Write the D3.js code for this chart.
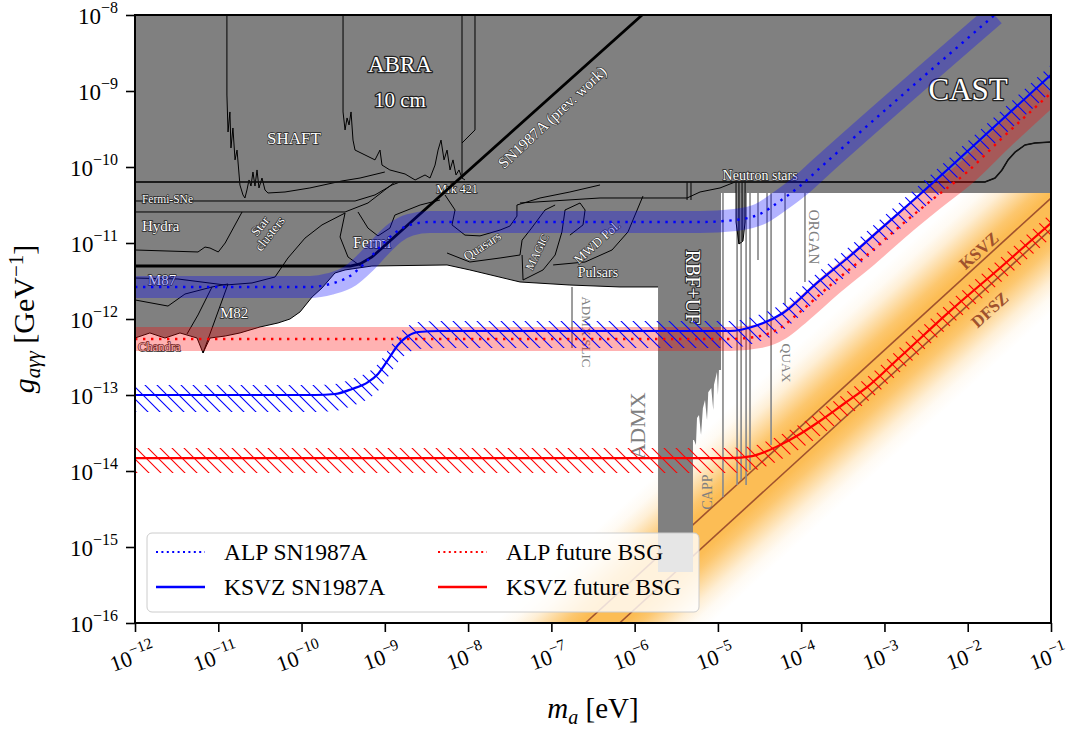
<!DOCTYPE html>
<html>
<head>
<meta charset="utf-8">
<script src="https://cdn.jsdelivr.net/npm/d3@7/dist/d3.min.js"></script>
<style>
html,body{margin:0;padding:0;background:#fff;}
svg text{font-family:"Liberation Serif","DejaVu Serif",serif;}
</style>
</head>
<body>
<svg id="chart" width="1081" height="732"></svg>
<script>
// ================= DATA (mass m_a in eV, coupling g in GeV^-1) =================
const massTicks = [1e-12,1e-11,1e-10,1e-9,1e-8,1e-7,1e-6,1e-5,1e-4,1e-3,1e-2,1e-1];
const massTickExp = ["−12","−11","−10","−9","−8","−7","−6","−5","−4","−3","−2","−1"];
const couplingTicks = [1e-16,1e-15,1e-14,1e-13,1e-12,1e-11,1e-10,1e-9,1e-8];
const couplingTickExp = ["−16","−15","−14","−13","−12","−11","−10","−9","−8"];

// projected bounds (this work)
const alpSN = [[1e-12,2.64e-12],[1.26e-10,2.64e-12],[2.2e-10,2.89e-12],[3.82e-10,3.68e-12],[5.78e-10,5.46e-12],[8.75e-10,8.85e-12],[1.32e-9,1.36e-11],[2.01e-9,1.73e-11],[3.49e-9,1.89e-11],[6.1e-6,1.89e-11],[1.61e-5,2.01e-11],[3.21e-5,2.41e-11],[5.57e-5,3.57e-11],[9.68e-5,5.62e-11],[1.68e-4,9.7e-11],[2.1e-2,1e-8]];
const ksvzSN = [[1e-12,1.0e-13],[1.45e-10,1.0e-13],[2.52e-10,1.03e-13],[4.04e-10,1.2e-13],[6.28e-10,1.48e-13],[8.28e-10,1.89e-13],[1.09e-9,2.89e-13],[1.44e-9,4.55e-13],[1.9e-9,5.97e-13],[2.51e-9,6.75e-13],[4.6e-9,6.95e-13],[1.4e-5,6.95e-13],[2.79e-5,8.09e-13],[6.05e-5,1.2e-12],[1.55e-4,2.98e-12],[3.86e-4,6.75e-12],[9.62e-4,1.63e-11],[2.46e-3,4.03e-11],[5.64e-3,9.14e-11],[1e-1,1.63e-9]];
const alpBSG = [[1e-12,5.46e-13],[1.4e-5,5.46e-13],[3.21e-5,5.97e-13],[5.57e-5,7.62e-13],[9.68e-5,1.24e-12],[2.41e-4,2.98e-12],[6.18e-4,6.95e-12],[1.54e-3,1.67e-11],[3.83e-3,3.79e-11],[9.82e-3,8.59e-11],[2.44e-2,2.26e-10],[1e-1,9.42e-10]];
const ksvzBSG = [[1e-12,1.48e-14],[1.4e-5,1.48e-14],[2.57e-5,1.57e-14],[3.89e-5,1.83e-14],[5.57e-5,2.2e-14],[8.43e-5,2.8e-14],[1.68e-4,4.55e-14],[3.36e-4,7.85e-14],[6.18e-4,1.27e-13],[1.54e-3,3.16e-13],[6.12e-3,1.27e-12],[2.44e-2,4.69e-12],[1e-1,1.83e-11]];

// QCD axion model lines
const ksvzModelM = [2.56e-7, 1e-1], ksvzModelG = [1e-16, 3.9e-11];
const dfszModelM = [6.6e-7, 1e-1],  dfszModelG = [1e-16, 1.52e-11];

// excluded region (grey)
const grayUpper = [[1e-12,1e-8],[1e-1,1e-8],[1e-1,4.55e-11],[2.12e-5,4.55e-11],[2.12e-5,1.89e-11],[2.0e-5,1.06e-11],[1.79e-5,9.7e-12],[1.65e-5,1.89e-11],[1.65e-5,4.55e-11],[1.09e-5,4.55e-11],[1.09e-5,2.13e-13],[1.03e-5,2.13e-13],[1.0e-5,1.0e-13],[9.75e-6,2.01e-13],[8.97e-6,1.36e-13],[8.79e-6,6.35e-14],[8.32e-6,1.24e-13],[7.66e-6,1.09e-13],[7.4e-6,4.69e-14],[7.0e-6,8.59e-14],[6.6e-6,6.7e-14],[6.27e-6,2.98e-14],[5.93e-6,5.46e-14],[5.61e-6,4.98e-14],[5.45e-6,2.2e-14],[5.16e-6,2.56e-14],[5.02e-6,2.56e-14],[5.02e-6,4.69e-16],[1.91e-6,4.69e-16]];
const astroLower = [[1.91e-6,2.64e-12],[6.67e-7,2.64e-12],[1.67e-7,2.8e-12],[4.2e-8,3.07e-12],[1.05e-8,4.42e-12],[5.59e-9,5.14e-12],[7.0e-10,4.98e-12],[3.33e-10,4.42e-12],[2.52e-10,4.03e-12],[1.76e-10,2.56e-12],[1.34e-10,1.95e-12],[9.6e-11,1.24e-12],[7.26e-11,1.0e-12],[5.21e-11,8.86e-13],[3.17e-11,7.85e-13],[1.82e-11,6.55e-13],[1.21e-11,5.97e-13],[7.96e-12,5.62e-13],[6.56e-12,3.57e-13],[5.56e-12,5.62e-13],[3.47e-12,6.55e-13],[2.29e-12,5.62e-13],[1.51e-12,6.55e-13],[1e-12,5.62e-13]];

// haloscope lines: [m, g_top, g_bottom]
const haloLines = [[1.77e-7,2.64e-12,4.15e-13],[1.15e-5,4.55e-11,4.55e-15],[1.70e-5,4.55e-11,6.55e-15],[1.90e-5,4.55e-11,7.62e-15],[2.18e-5,4.55e-11,6.55e-15],[2.43e-5,4.55e-11,1.03e-14],[3.03e-5,4.55e-11,5.97e-12],[3.89e-5,4.55e-11,7.16e-13],[4.35e-5,4.55e-11,2.2e-14],[6.4e-5,4.55e-11,1.53e-12],[1.11e-4,4.55e-11,3.07e-12]];

// outlines of individual limits
const castLine = [[1e-12,6.35e-11],[1.61e-2,6.35e-11],[2.13e-2,7.16e-11],[2.58e-2,9.14e-11],[3.05e-2,1.24e-10],[3.70e-2,1.57e-10],[4.88e-2,1.95e-10],[6.43e-2,2.07e-10],[1e-1,2.13e-10]];
const sn1987Prev = [[1e-12,4.98e-12],[3.82e-10,4.98e-12],[5.04e-10,5.3e-12],[7.02e-10,6.55e-12],[1.23e-6,1e-8]];
const shaftLine = [[1.27e-11,1e-8],[1.27e-11,8.85e-10],[1.31e-11,2.89e-10],[1.38e-11,5.3e-10],[1.42e-11,1.78e-10],[1.50e-11,3.26e-10],[1.59e-11,1.24e-10],[1.68e-11,1.67e-10],[1.82e-11,5.8e-11],[1.98e-11,4.29e-11],[2.09e-11,3.91e-11],[2.21e-11,4.98e-11],[2.34e-11,6.75e-11],[2.47e-11,5.62e-11],[2.61e-11,8.59e-11],[2.76e-11,5.62e-11],[2.92e-11,9.14e-11],[3.08e-11,5.3e-11],[3.35e-11,7.16e-11],[3.64e-11,4.98e-11],[3.95e-11,4.55e-11],[6.33e-11,4.69e-11],[1.26e-10,5.3e-11],[3.06e-10,6.55e-11],[5.04e-10,7.16e-11],[1.0e-9,8.59e-11]];
const abraLine = [[3.15e-10,1e-8],[3.15e-10,5.3e-10],[3.33e-10,3.07e-10],[3.52e-10,4.42e-10],[3.72e-10,3.57e-10],[3.93e-10,5.3e-10],[4.15e-10,2.26e-10],[4.39e-10,1.67e-10],[5.78e-10,1.44e-10],[7.62e-10,1.24e-10],[8.75e-10,1.67e-10],[9.25e-10,1.06e-10],[1.15e-9,9.14e-11],[1.75e-9,8.09e-11],[2.31e-9,6.75e-11],[3.04e-9,7.85e-11],[3.49e-9,7.16e-11],[4.01e-9,1.06e-10],[4.36e-9,1.67e-10],[4.73e-9,2.26e-10],[5.14e-9,1.24e-10],[5.59e-9,1.67e-10],[6.07e-9,9.14e-11],[6.59e-9,1.24e-10],[7.16e-9,7.85e-11],[7.78e-9,9.14e-11],[8.45e-9,7.16e-11],[9.18e-9,6.75e-11]];
const abraEdgeA = [[8.45e-9,1e-8],[8.45e-9,7.16e-11]];
const abraEdgeB = [[1.21e-8,1e-8],[1.21e-8,3.07e-10],[8.45e-9,2.07e-10]];
const fermiSNeLine = [[1e-12,3.57e-11],[4.39e-10,3.57e-11],[7.62e-10,4.29e-11],[1.22e-9,5.8e-11],[1.52e-9,6.35e-11]];
const hydraTop = [[1e-12,2.56e-11],[3.33e-10,2.56e-11],[6.28e-10,3.36e-11],[1.0e-9,4.98e-11],[1.32e-9,6.35e-11]];
const hydraBottom = [[1e-12,8.09e-12],[5.71e-12,7.62e-12],[6.93e-12,8.85e-12],[7.96e-12,8.59e-12],[1.0e-11,7.62e-12],[1.21e-11,1.0e-11],[1.93e-11,2.56e-11]];
const m87Top = [[1e-12,3.46e-12],[3.28e-12,3.36e-12],[1.21e-11,2.8e-12],[2.54e-11,2.98e-12],[4.8e-11,3.57e-12],[6.87e-11,6.35e-12],[1.1e-10,1.16e-11],[1.76e-10,1.73e-11],[3.33e-10,2.48e-11]];
const m87Bottom = [[1e-12,1.78e-12],[2.49e-12,1.48e-12],[3.98e-12,2.13e-12],[8.41e-12,2.64e-12],[1.31e-11,2.89e-12]];
const m82A = [[8.41e-12,2.64e-12],[5.71e-12,1.13e-12],[4.21e-12,6.35e-13]];
const m82B = [[1.31e-11,2.89e-12],[9.14e-12,9.7e-13],[6.56e-12,3.57e-13]];
const fermiA = [[3.33e-10,2.48e-11],[2.9e-10,1.2e-11],[3.61e-10,6.55e-12],[5.32e-10,4.83e-12]];
const fermiB = [[4.76e-10,2.56e-11],[6.28e-10,1.57e-11],[8.28e-10,1.24e-11],[1.15e-9,1.57e-11],[1.32e-9,2.33e-11],[2.65e-9,3.16e-11],[4.6e-9,3.68e-11]];
const quasarsA = [[5.28e-9,4.29e-11],[6.97e-9,2.72e-11],[6.41e-9,1.73e-11],[9.18e-9,1.27e-11],[1.39e-8,1.24e-11],[2.42e-8,1.48e-11],[3.18e-8,1.67e-11],[3.86e-8,2.26e-11],[3.86e-8,3.16e-11],[7.31e-8,3.91e-11],[1.67e-7,4.69e-11],[3.84e-7,5.8e-11]];
const quasarsB = [[5.59e-9,7.38e-12],[1.05e-8,5.62e-12],[2.42e-8,6.35e-12],[4.2e-8,6.95e-12],[4.45e-8,1.09e-11],[5.55e-8,1.48e-11],[8.4e-8,2.72e-11],[1.11e-7,3.16e-11]];
const magicRight = [[4.57e-8,3.26e-12],[7.94e-8,4.42e-12],[1.11e-7,6.95e-12],[1.34e-7,1.4e-11],[1.46e-7,2.72e-11],[2.21e-7,3.36e-11],[2.54e-7,2.72e-11],[2.4e-7,1.73e-11],[1.67e-7,1.27e-11]];
const magicLeft = [[4.57e-8,3.26e-12],[4.45e-8,6.95e-12]];
const mwdLine = [[1.05e-7,5.14e-12],[2.54e-7,5.62e-12],[5.35e-7,8.09e-12],[8.32e-7,1.4e-11],[1.26e-6,4.15e-11]];
const nsLine = [[4.2e-8,3.36e-11],[3.84e-7,3.91e-11],[4.26e-6,3.91e-11],[6.1e-6,4.69e-11],[1.06e-5,5.3e-11],[1.61e-5,6.35e-11]];
const nsNotch = [[1.65e-5,6.35e-11],[1.65e-5,1.89e-11],[1.79e-5,9.7e-12],[2.0e-5,1.06e-11],[2.12e-5,1.89e-11],[2.12e-5,6.35e-11]];
const nsInner = [[1.79e-5,6.35e-11],[1.79e-5,9.7e-12]];
const nsInner2 = [[1.95e-5,6.35e-11],[1.95e-5,1.06e-11]];
const nsEdgeA = [[4.26e-6,6.35e-11],[4.26e-6,3.68e-11]];
const nsEdgeB = [[4.75e-6,6.35e-11],[4.75e-6,3.68e-11]];

// annotations: [text, m, g, fontSize, rotation, anchor]
const whiteLabels = [
  ["ABRA",1.52e-9,1.78e-9,23,0,"middle"],
  ["10 cm",1.52e-9,6.15e-10,21,0,"middle"],
  ["SHAFT",8.11e-11,2.01e-10,17,0,"middle"],
  ["CAST",1.01e-2,7.62e-10,31,0,"middle"],
  ["Neutron stars",3.21e-5,6.75e-11,14,0,"middle"],
  ["Mrk 421",7.36e-9,4.55e-11,12,0,"middle"],
  ["Fermi-SNe",1.21e-12,3.36e-11,11.5,0,"start"],
  ["Hydra",1.21e-12,1.44e-11,15,0,"start"],
  ["Fermi",7.02e-10,8.59e-12,16,0,"middle"],
  ["M87",1.43e-12,2.8e-12,15,0,"start"],
  ["M82",1.55e-11,1.03e-12,15,0,"middle"],
  ["Chandra",1.09e-12,3.79e-13,12.5,0,"start"],
  ["Pulsars",3.63e-7,3.57e-12,14,0,"middle"]
];
const rotLabels = [
  ["SN1987A (prev. work)",1.02e-7,4.55e-10,15.5,-43],
  ["Quasars",1.47e-8,9.14e-12,13,-33],
  ["MAGIC",6.73e-8,7.62e-12,11.5,-64],
  ["MWD Pol.",3.53e-7,1.03e-11,13,-42],
  ["RBF+UF",5.02e-6,2.64e-12,20,90]
];
const grayLabels = [
  ["ADMX",1.07e-6,3.91e-14,22,-90],
  ["ADMX SLIC",2.61e-7,6.75e-13,13,90],
  ["ORGAN",1.43e-4,1.2e-11,15.5,90],
  ["QUAX",6.58e-5,2.64e-13,13.5,90],
  ["CAPP",7.6e-6,5.3e-15,14,-90]
];
const modelLabels = [["KSVZ",1.37e-2,7.85e-12,17,-42],["DFSZ",1.85e-2,1.31e-12,17,-42]];
const legendNames = ["ALP SN1987A","KSVZ SN1987A","ALP future BSG","KSVZ future BSG"];
const legendColors = ["#0000ff","#0000ff","#ff0000","#ff0000"];
const legendDotted = [true,false,true,false];

// ================= DRAWING =================
const svg = d3.select("#chart");
const X0=135, X1=1051, Y0=15, Y1=623;
const x = d3.scaleLog().domain([1e-12,1e-1]).range([X0,X1]);
const y = d3.scaleLog().domain([1e-16,1e-8]).range([Y1,Y0]);
const line = d3.line().x(d=>x(d[0])).y(d=>y(d[1]));
const smooth = d3.line().x(d=>x(d[0])).y(d=>y(d[1])).curve(d3.curveMonotoneX);

svg.append("rect").attr("width",1081).attr("height",732).attr("fill","#fff");
const defs = svg.append("defs");
defs.append("clipPath").attr("id","plotClip").append("rect")
  .attr("x",X0).attr("y",Y0).attr("width",X1-X0).attr("height",Y1-Y0);

function hatch(id,color){
  const p = defs.append("pattern").attr("id",id).attr("patternUnits","userSpaceOnUse")
    .attr("width",12).attr("height",12);
  p.append("path").attr("d","M0,0L12,12M-3,9L3,15M9,-3L15,3")
    .attr("stroke",color).attr("stroke-width",1.1).attr("fill","none");
}
hatch("hatchBlue","#0000ff");
hatch("hatchRed","#ff0000");

// orange QCD-axion band gradient (perpendicular to the model lines)
const kA=[x(ksvzModelM[0]),y(ksvzModelG[0])], kB=[x(ksvzModelM[1]),y(ksvzModelG[1])];
const ddx=kB[0]-kA[0], ddy=kB[1]-kA[1], dl=Math.hypot(ddx,ddy);
const nv=[-ddy/dl, ddx/dl];
const dB=[x(dfszModelM[1]),y(dfszModelG[1])];
const sep=(dB[0]-kB[0])*nv[0]+(dB[1]-kB[1])*nv[1];
const cc=[kB[0]+nv[0]*sep/2, kB[1]+nv[1]*sep/2];
const R=sep/2+80;
const grad=defs.append("linearGradient").attr("id","qcdGrad").attr("gradientUnits","userSpaceOnUse")
  .attr("x1",cc[0]-nv[0]*R).attr("y1",cc[1]-nv[1]*R).attr("x2",cc[0]+nv[0]*R).attr("y2",cc[1]+nv[1]*R);
const h=sep/2;
[[-R,0],[-(h+62),0],[-(h+50),0.07],[-(h+38),0.25],[-(h+26),0.55],[-(h+14),0.85],[-(h+4),1],[h+4,1],[h+14,0.85],[h+26,0.55],[h+38,0.25],[h+50,0.07],[h+62,0],[R,0]]
  .forEach(s=>grad.append("stop").attr("offset",(s[0]+R)/(2*R)).attr("stop-color","#fcbd55").attr("stop-opacity",s[1]));

const plot = svg.append("g").attr("clip-path","url(#plotClip)");

// orange band
plot.append("rect").attr("x",X0).attr("y",Y0).attr("width",X1-X0).attr("height",Y1-Y0).attr("fill","url(#qcdGrad)");
// model lines
plot.append("path").attr("d",line(d3.zip(ksvzModelM,ksvzModelG))).attr("stroke","#a0522d").attr("stroke-width",1.6).attr("fill","none");
plot.append("path").attr("d",line(d3.zip(dfszModelM,dfszModelG))).attr("stroke","#a0522d").attr("stroke-width",1.6).attr("fill","none");

// grey excluded region
plot.append("path").attr("d",line(grayUpper.concat(astroLower))+"Z").attr("fill","#808080").attr("stroke","none");

// white gap & haloscope lines
plot.append("line").attr("x1",x(1.12e-5)).attr("x2",x(1.12e-5)).attr("y1",y(4.55e-11)).attr("y2",y(2.13e-13)).attr("stroke","#fff").attr("stroke-width",1.5);
plot.selectAll(".halo").data(haloLines).enter().append("line")
  .attr("x1",d=>x(d[0])).attr("x2",d=>x(d[0])).attr("y1",d=>y(d[1])).attr("y2",d=>y(d[2]))
  .attr("stroke","#8c8c8c").attr("stroke-width",1.7);

// thin black outlines
[castLine,shaftLine,abraLine,abraEdgeA,abraEdgeB,fermiSNeLine,hydraTop,hydraBottom,m87Top,m87Bottom,m82A,m82B,fermiA,fermiB,quasarsA,quasarsB,magicRight,magicLeft,mwdLine,nsLine,nsNotch,nsInner,nsInner2,nsEdgeA,nsEdgeB,astroLower]
  .forEach(ar=>plot.append("path").attr("d",line(ar)).attr("stroke","#000").attr("stroke-width",1).attr("fill","none").attr("stroke-linejoin","round"));
plot.append("path").attr("d",line(castLine)).attr("stroke","#111").attr("stroke-width",1.6).attr("fill","none");

// white labels in excluded regions
function outlined(sel,sw){ return sel.attr("fill","#fff").attr("stroke","#222").attr("stroke-width",sw).attr("paint-order","stroke").attr("stroke-linejoin","round"); }
whiteLabels.forEach(l=>{
  outlined(plot.append("text").attr("x",x(l[1])).attr("y",y(l[2])).attr("font-size",l[3]).attr("text-anchor",l[5]).text(l[0]), l[3]>=20?2.6:1.4);
});
const sc = outlined(plot.append("text").attr("transform",`translate(${x(3.64e-11)},${y(1.48e-11)}) rotate(-52)`).attr("font-size",13).attr("text-anchor","middle"),1.3);
sc.append("tspan").attr("x",0).attr("dy","-0.15em").text("Star");
sc.append("tspan").attr("x",0).attr("dy","0.95em").text("clusters");
rotLabels.forEach(l=>{
  outlined(plot.append("text").attr("transform",`translate(${x(l[1])},${y(l[2])}) rotate(${l[4]})`)
    .attr("font-size",l[3]).attr("text-anchor","middle").attr("dominant-baseline","central").text(l[0]), l[3]>=18?2.2:1.2);
});
grayLabels.forEach(l=>{
  plot.append("text").attr("transform",`translate(${x(l[1])},${y(l[2])}) rotate(${l[4]})`)
    .attr("font-size",l[3]).attr("text-anchor","middle").attr("dominant-baseline","central").attr("fill","#808080").text(l[0]);
});

// previous SN1987A bound (thick)
plot.append("path").attr("d",line(sn1987Prev)).attr("stroke","#000").attr("stroke-width",2.8).attr("fill","none");

// translucent bands
plot.append("path").attr("d",smooth(alpSN)).attr("stroke","#0000ff").attr("stroke-opacity",0.3).attr("stroke-width",22).attr("fill","none");
plot.append("path").attr("d",smooth(alpBSG)).attr("stroke","#ff0000").attr("stroke-opacity",0.3).attr("stroke-width",24).attr("fill","none");

// hatched bands
const hatchArea = (up,down)=>d3.area().x(d=>x(d[0])).y0(d=>y(d[1])+down).y1(d=>y(d[1])-up).curve(d3.curveMonotoneX);
plot.append("path").attr("d",hatchArea(10,17)(ksvzSN)).attr("fill","url(#hatchBlue)");
plot.append("path").attr("d",hatchArea(10,15)(ksvzBSG)).attr("fill","url(#hatchRed)");

// lines
plot.append("path").attr("d",smooth(alpSN)).attr("stroke","#0000ff").attr("stroke-width",2.4).attr("stroke-dasharray","2.4,5.6").attr("fill","none");
plot.append("path").attr("d",smooth(alpBSG)).attr("stroke","#ff0000").attr("stroke-width",2.4).attr("stroke-dasharray","2.4,5.6").attr("fill","none");
plot.append("path").attr("d",smooth(ksvzSN)).attr("stroke","#0000ff").attr("stroke-width",2.2).attr("fill","none");
plot.append("path").attr("d",smooth(ksvzBSG)).attr("stroke","#ff0000").attr("stroke-width",2.2).attr("fill","none");

modelLabels.forEach(l=>{
  plot.append("text").attr("transform",`translate(${x(l[1])},${y(l[2])}) rotate(${l[4]})`)
    .attr("font-size",l[3]).attr("font-weight","bold").attr("text-anchor","middle").attr("dominant-baseline","central")
    .attr("fill","#a0522d").text(l[0]);
});

// ================= AXES =================
const xAxisG = svg.append("g").attr("transform",`translate(0,${Y1})`);
xAxisG.call(d3.axisBottom(x).tickValues(x.ticks().filter(v=>!massTicks.some(t=>Math.abs(t-v)/t<1e-6))).tickFormat("").tickSize(5).tickSizeOuter(0));
xAxisG.call(g=>g.select(".domain").remove());
const xMaj = svg.append("g").attr("transform",`translate(0,${Y1})`);
xMaj.call(d3.axisBottom(x).tickValues(massTicks).tickFormat("").tickSize(9).tickSizeOuter(0));
xMaj.call(g=>g.select(".domain").remove());
svg.selectAll(".tick line").attr("stroke","#000").attr("stroke-width",1.2);
xMaj.selectAll(".tick line").attr("stroke-width",1.6);

massTicks.forEach((t,i)=>{
  const tx=x(t);
  const tt=svg.append("text").attr("transform",`translate(${tx},${Y1+41}) rotate(-20)`).attr("text-anchor","middle").attr("font-size",22);
  tt.append("tspan").text("10");
  tt.append("tspan").attr("font-size",15.5).attr("dy",-9.5).text(massTickExp[i]);
});

const yAxisG = svg.append("g").attr("transform",`translate(${X0},0)`);
yAxisG.call(d3.axisLeft(y).tickValues(couplingTicks).tickFormat("").tickSize(9).tickSizeOuter(0));
yAxisG.call(g=>g.select(".domain").remove());
yAxisG.selectAll(".tick line").attr("stroke","#000").attr("stroke-width",1.6);
couplingTicks.forEach((t,i)=>{
  const tt=svg.append("text").attr("x",X0-17).attr("y",y(t)+9).attr("text-anchor","end").attr("font-size",23);
  tt.append("tspan").text("10");
  tt.append("tspan").attr("font-size",16).attr("dy",-11).text(couplingTickExp[i]);
});

// frame
svg.append("rect").attr("x",X0).attr("y",Y0).attr("width",X1-X0).attr("height",Y1-Y0)
  .attr("fill","none").attr("stroke","#000").attr("stroke-width",2);

// axis titles
const xl = svg.append("text").attr("x",(X0+X1)/2).attr("y",718).attr("text-anchor","middle").attr("font-size",29);
xl.append("tspan").attr("font-style","italic").text("m");
xl.append("tspan").attr("font-style","italic").attr("font-size",20).attr("dy",6).text("a");
xl.append("tspan").attr("dy",-6).text(" [eV]");

const yl = svg.append("text").attr("transform",`translate(34,${(Y0+Y1)/2}) rotate(-90)`).attr("text-anchor","middle").attr("font-size",30);
yl.append("tspan").attr("font-style","italic").text("g");
yl.append("tspan").attr("font-style","italic").attr("font-size",21).attr("dy",6).text("aγγ");
yl.append("tspan").attr("dy",-6).text(" [GeV");
yl.append("tspan").attr("font-size",21).attr("dy",-11).text("−1");
yl.append("tspan").attr("dy",11).text("]");

// ================= LEGEND =================
const lg = svg.append("g");
lg.append("rect").attr("x",147).attr("y",533).attr("width",552).attr("height",79).attr("rx",5)
  .attr("fill","#fff").attr("fill-opacity",0.8).attr("stroke","#cccccc").attr("stroke-width",1);
const legX=[156,438], legY=[552,587];
legendNames.forEach((name,i)=>{
  const col = i<2?0:1, row=i%2;
  const lx=legX[col], ly=legY[row];
  lg.append("line").attr("x1",lx).attr("x2",lx+49).attr("y1",ly).attr("y2",ly)
    .attr("stroke",legendColors[i]).attr("stroke-width",legendDotted[i]?2.2:2.4)
    .attr("stroke-dasharray",legendDotted[i]?"2,3.4":null);
  lg.append("text").attr("x",lx+68).attr("y",ly+8).attr("font-size",23.5).attr("fill","#000").text(name);
});
</script>
</body>
</html>
